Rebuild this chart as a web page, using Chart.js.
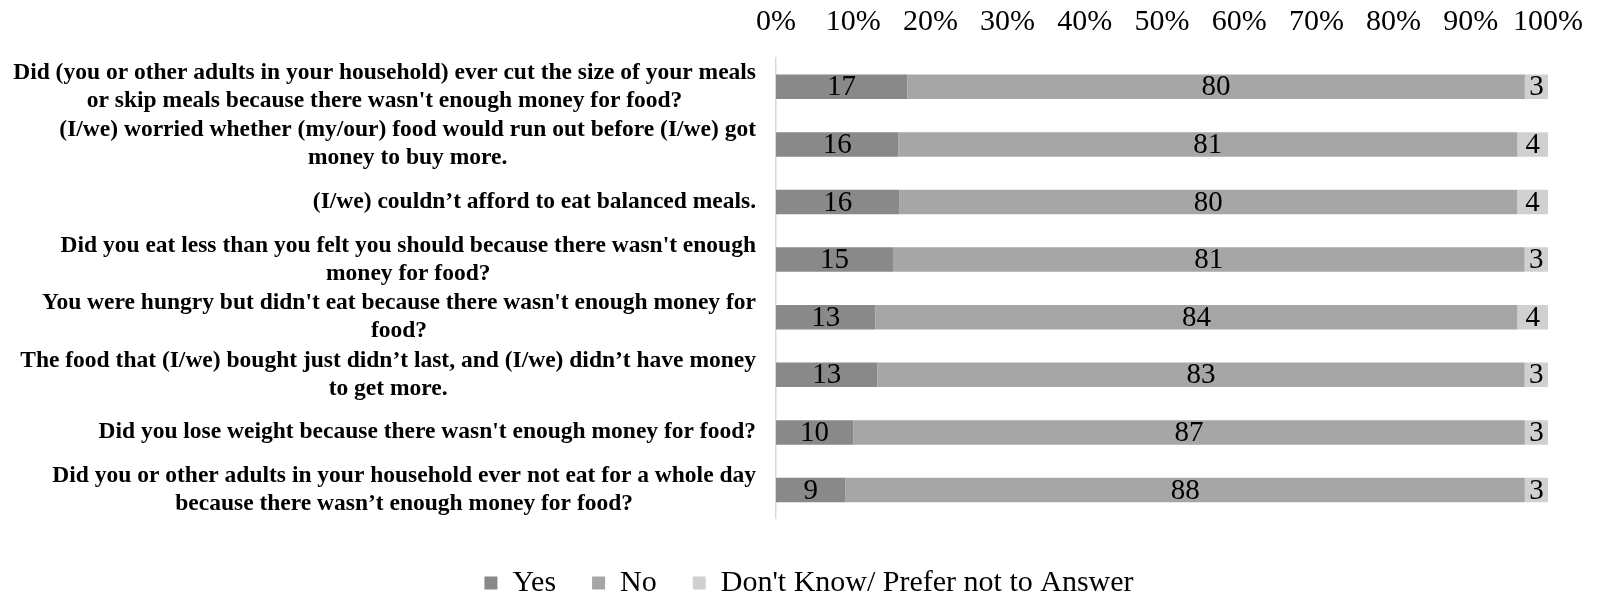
<!DOCTYPE html>
<html>
<head>
<meta charset="utf-8">
<script src="https://cdn.jsdelivr.net/npm/chart.js@4"></script>
<style>
  html, body { margin: 0; padding: 0; background: #fff; overflow: hidden; }
  #wrap { width: 1597px; height: 594px; position: relative; }
</style>
</head>
<body>
<div id="wrap"><canvas id="foodChart"></canvas></div>
<script>
// Données
const questions = [
    ["Did (you or other adults in your household) ever cut the size of your meals", "or skip meals because there wasn't enough money for food?"],
    ["(I/we) worried whether (my/our) food would run out before (I/we) got", "money to buy more."],
    ["(I/we) couldn\u2019t afford to eat balanced meals."],
    ["Did you eat less than you felt you should because there wasn't enough", "money for food?"],
    ["You were hungry but didn't eat because there wasn't enough money for", "food?"],
    ["The food that (I/we) bought just didn\u2019t last, and (I/we) didn\u2019t have money", "to get more."],
    ["Did you lose weight because there wasn't enough money for food?"],
    ["Did you or other adults in your household ever not eat for a whole day", "because there wasn\u2019t enough money for food?"]
];
const yesValues = [17, 16, 16, 15, 13, 13, 10, 9];
const noValues = [80, 81, 80, 81, 84, 83, 87, 88];
const dkValues = [3, 4, 4, 3, 4, 3, 3, 3];
const seriesNames = ["Yes", "No", "Don't Know/ Prefer not to Answer"];
const tickValues = [0, 10, 20, 30, 40, 50, 60, 70, 80, 90, 100];

const serif = "'Times New Roman', 'Liberation Serif', serif";

// Graphique 100 % empilé : chaque ligne ramenée à son total
const totals = yesValues.map((v, i) => v + noValues[i] + dkValues[i]);
const pct = arr => arr.map((v, i) => v / totals[i] * 100);

const rawSeries = [yesValues, noValues, dkValues];
const colors = ['#898989', '#a6a6a6', '#d0d0d0'];

// Étiquettes des valeurs au centre de chaque segment
const valueLabels = {
    id: 'valueLabels',
    afterDatasetsDraw(chart) {
        const ctx = chart.ctx;
        ctx.save();
        ctx.font = '29px ' + serif;
        ctx.fillStyle = '#000';
        ctx.textAlign = 'center';
        ctx.textBaseline = 'middle';
        chart.data.datasets.forEach((ds, di) => {
            chart.getDatasetMeta(di).data.forEach((bar, i) => {
                const cx = (bar.x + bar.base) / 2;
                ctx.fillText(String(rawSeries[di][i]), cx, bar.y + 1);
            });
        });
        ctx.restore();
    }
};

// Questions à gauche : bloc aligné à droite, lignes centrées entre elles
const questionLabels = {
    id: 'questionLabels',
    afterDraw(chart) {
        const ctx = chart.ctx;
        const yScale = chart.scales.y;
        const right = yScale.right - 20;
        const lineH = 28;
        ctx.save();
        ctx.font = 'bold 23.5px ' + serif;
        ctx.fillStyle = '#000';
        ctx.textAlign = 'center';
        ctx.textBaseline = 'middle';
        questions.forEach((lines, i) => {
            const y = yScale.getPixelForTick(i);
            const blockW = Math.max(...lines.map(l => ctx.measureText(l).width));
            const cx = right - blockW / 2;
            const y0 = y - (lines.length - 1) * lineH / 2;
            lines.forEach((l, k) => ctx.fillText(l, cx, y0 + k * lineH));
        });
        ctx.restore();
    }
};

const padLeft = 70;

const ctx = document.getElementById('foodChart').getContext('2d');
new Chart(ctx, {
    type: 'bar',
    data: {
        labels: questions.map(q => q.join(' ')),
        datasets: [0, 1, 2].map(i => ({
            label: seriesNames[i],
            data: pct(rawSeries[i]),
            backgroundColor: colors[i],
            borderWidth: 0,
            categoryPercentage: 1,
            barPercentage: 0.425
        }))
    },
    options: {
        indexAxis: 'y',
        responsive: true,
        maintainAspectRatio: false,
        animation: false,
        layout: { padding: { top: -14, right: 49, left: padLeft, bottom: -14 } },
        plugins: {
            tooltip: { enabled: false },
            legend: {
                position: 'bottom',
                title: { display: true, text: '', font: { size: 1 }, padding: { top: 12, bottom: 0 } },
                labels: {
                    font: { family: serif, size: 30 },
                    color: '#000',
                    boxWidth: 13,
                    boxHeight: 13,
                    padding: 36
                }
            }
        },
        scales: {
            x: {
                position: 'top',
                stacked: true,
                min: 0,
                max: 100,
                afterBuildTicks(scale) {
                    scale.ticks = tickValues.map(v => ({ value: v }));
                },
                afterFit(scale) {
                    scale.paddingLeft = 0;
                    scale.paddingRight = 0;
                },
                ticks: {
                    font: { family: serif, size: 30 },
                    color: '#000',
                    padding: 18,
                    maxRotation: 0,
                    callback: v => v + '%'
                },
                grid: { display: false, drawTicks: false },
                border: { display: false }
            },
            y: {
                stacked: true,
                ticks: { display: false },
                grid: { display: false, drawTicks: false },
                border: { display: true, color: '#d9d9d9', width: 1.5 },
                afterFit(scale) { scale.width = 776 - padLeft; }
            }
        }
    },
    plugins: [valueLabels, questionLabels]
});
</script>
</body>
</html>
